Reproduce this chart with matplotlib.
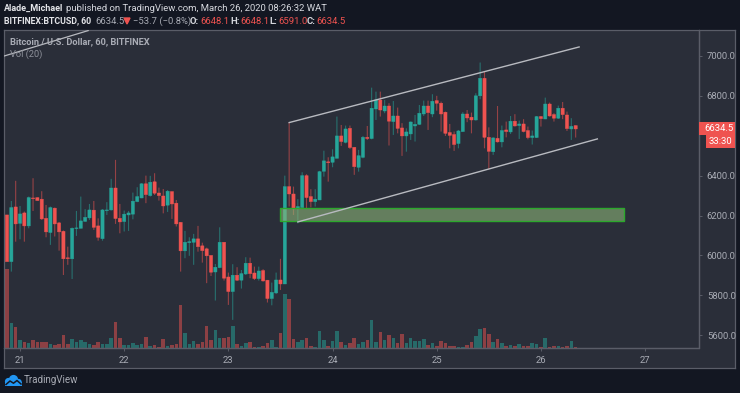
# -*- coding: utf-8 -*-
import matplotlib
matplotlib.use('Agg')
import matplotlib.pyplot as plt
from matplotlib.patches import Rectangle, Polygon, Circle
import numpy as np

plt.rcParams['font.family'] = ['Roboto', 'DejaVu Sans']

# hourly candles, hours counted from the start of the 21st
hours = np.arange(-3, 129)
opens = [6203,5969,6243,6161,6213,6148,6288,6290,6282,6186,6115,6237,6163,6121,5988,5983,6135,6136,6171,6188,
         6227,6148,6084,6225,6228,6338,6186,6170,6203,6207,6270,6288,6359,6300,6369,6313,6298,6252,6320,6262,
         6166,6023,6064,6066,6083,6048,6033,6000,5917,5939,6066,5892,5819,5901,5876,5907,5961,5912,5884,5924,
         5876,5784,5812,5877,5857,6345,6308,6235,6240,6400,6295,6270,6278,6422,6469,6467,6487,6599,6567,6637,
         6542,6442,6492,6592,6586,6734,6779,6724,6749,6671,6699,6639,6599,6609,6649,6657,6709,6749,6709,6776,
         6763,6718,6616,6606,6561,6621,6709,6693,6679,6800,6888,6592,6520,6587,6569,6629,6619,6673,6651,6659,
         6626,6591,6591,6696,6684,6759,6706,6688,6738,6704,6634,6651]
closes = [5969,6240,6158,6208,6148,6290,6285,6275,6183,6118,6240,6158,6118,5983,5984,6136,6138,6173,6191,6228,
          6141,6091,6228,6228,6338,6185,6168,6207,6213,6272,6295,6359,6305,6367,6312,6300,6248,6322,6258,6158,
          6023,6066,6069,6083,6044,6024,5998,5916,5941,6066,5886,5819,5901,5876,5909,5961,5909,5884,5922,5872,
          5784,5815,5877,5857,6345,6308,6233,6245,6400,6290,6270,6282,6420,6474,6465,6494,6599,6571,6634,6541,
          6445,6500,6592,6586,6738,6779,6729,6749,6673,6699,6637,6599,6619,6669,6657,6713,6749,6716,6773,6763,
          6709,6612,6602,6556,6624,6709,6689,6679,6800,6888,6592,6522,6589,6569,6626,6621,6673,6649,6659,6621,
          6591,6599,6696,6686,6759,6699,6688,6738,6706,6636,6647,6634]
highs = [6203,6273,6374,6248,6220,6295,6387,6290,6322,6253,6245,6240,6168,6125,6044,6140,6223,6295,6232,6258,
         6273,6186,6232,6267,6384,6479,6258,6225,6223,6315,6342,6362,6400,6399,6412,6340,6333,6328,6320,6278,
         6166,6123,6091,6108,6148,6064,6039,6000,5957,6141,6066,5914,5956,5941,5927,5991,5989,5944,5944,5931,
         5877,5864,5914,5983,6400,6666,6345,6282,6417,6407,6332,6332,6424,6525,6492,6532,6696,6654,6651,6651,
         6542,6529,6599,6649,6841,6821,6821,6779,6763,6774,6741,6663,6637,6671,6704,6754,6776,6776,6808,6800,
         6771,6721,6659,6621,6629,6718,6729,6716,6813,6967,6922,6642,6592,6749,6651,6671,6699,6708,6676,6683,
         6646,6626,6699,6699,6791,6766,6713,6751,6769,6721,6688,6651]
lows = [5969,5919,6069,6081,6069,6136,6223,6275,6178,6091,6053,6095,6024,5902,5953,5882,6098,6136,6168,6178,
        6128,6074,6074,6203,6225,6158,6111,6120,6123,6181,6267,6287,6262,6295,6303,6275,6211,6218,6183,6145,
        5919,5986,5998,5953,6019,5964,5861,5897,5774,5936,5874,5752,5677,5872,5834,5902,5886,5877,5874,5869,
        5764,5750,5807,5827,5857,6245,6203,6161,6236,6236,6241,6245,6278,6395,6370,6442,6487,6549,6562,6534,
        6404,6420,6487,6579,6582,6679,6696,6713,6551,6604,6612,6499,6520,6579,6571,6654,6699,6629,6693,6726,
        6621,6599,6537,6524,6537,6619,6668,6612,6676,6783,6537,6432,6504,6566,6542,6592,6609,6646,6584,6617,
        6582,6556,6589,6646,6683,6696,6671,6684,6683,6624,6579,6591]
volumes = [236,76,62,23,19,15,25,19,17,19,12,10,12,39,12,26,17,25,19,13,
           10,19,12,12,29,79,29,8,9,15,9,12,33,5,8,4,27,7,10,12,
           128,46,12,21,11,19,65,23,54,31,31,34,65,11,6,14,19,2,4,7,
           14,24,4,44,161,148,26,18,23,31,7,3,51,23,7,20,51,17,9,14,
           31,12,18,24,83,18,49,24,39,31,16,41,16,31,22,20,26,10,14,5,
           20,16,5,5,3,4,10,18,35,58,59,43,17,26,14,7,10,7,12,5,
           5,16,12,4,31,4,7,5,2,5,22,4]

price_ticks = [5600, 5800, 6000, 6200, 6400, 6800, 7000]
price_labels = ['5600.0', '5800.0', '6000.0', '6200.0', '6400.0', '6800.0', '7000.0']
day_ticks = [0, 24, 48, 72, 96, 120, 144]
day_labels = ['21', '22', '23', '24', '25', '26', '27']

# drawn trend lines and the demand zone
channel_top = ([62, 128.8], [6666, 7045])
channel_bottom = ([64, 133], [6168, 6584])
old_line = ([-3.6, 15.7], [7000, 7127])
zone_hours = (59.9, 139.2)
zone_prices = (6173, 6238)

BG = '#2a2e39'
OUTER = '#131722'
FRAME = '#5a5d68'
TEXT = '#a9acb5'
UP = '#26a69a'
DOWN = '#ef5350'
LINE = '#b8bac0'

W, H = 740.0, 393.0
fig = plt.figure(figsize=(7.4, 3.93), dpi=100, facecolor=OUTER)

# panel background with outer frame
back = fig.add_axes([4/W, 1-367.5/H, 731/W, 337.5/H], facecolor=BG)
back.set_xticks([])
back.set_yticks([])
for s in back.spines.values():
    s.set_color(FRAME)
    s.set_linewidth(0.9)

ax_vol = fig.add_axes([4/W, 1-348/H, 694.5/W, 318/H])
ax = ax_vol.twinx()
ax_vol.set_zorder(2)
ax.set_zorder(3)
ax_vol.patch.set_visible(False)
ax.patch.set_visible(False)

x = np.array(hours)
o = np.array(opens, dtype=float)
c = np.array(closes, dtype=float)
colors = [UP if cc >= oo else DOWN for oo, cc in zip(o, c)]

ax_vol.bar(x, volumes, width=0.82, color=colors, alpha=0.5, linewidth=0)
ax_vol.set_ylim(0, 954)
ax_vol.set_xlim(-3.69, 156.3)
ax_vol.set_yticks([])
ax_vol.set_xticks(day_ticks)
ax_vol.set_xticklabels(day_labels)
ax_vol.tick_params(axis='x', colors=TEXT, labelsize=6.8, length=2.5, width=0.7, color=FRAME, pad=3.5)

wicks = ax.vlines(x, lows, highs, colors=colors, linewidth=0.8, alpha=0.55, zorder=2)
wicks.set_snap(False)
bodies = ax.bar(x, np.abs(c-o), bottom=np.minimum(o, c), width=0.74, color=colors,
                edgecolor=colors, linewidth=0.3, zorder=3)
for b in bodies:
    b.set_snap(False)

ax.set_ylim(5536, 7130)
ax.set_yticks(price_ticks)
ax.set_yticklabels(price_labels)
ax.tick_params(axis='y', colors=TEXT, labelsize=6.8, length=2.5, width=0.7, color=FRAME, pad=3.5)

for a in (ax, ax_vol):
    a.spines['top'].set_visible(False)
    a.spines['left'].set_visible(False)
    a.spines['right'].set_color(FRAME)
    a.spines['bottom'].set_color(FRAME)
    a.spines['right'].set_linewidth(0.9)
    a.spines['bottom'].set_linewidth(0.9)

ax.plot(channel_top[0], channel_top[1], color=LINE, lw=1.0, zorder=5)
ax.plot(channel_bottom[0], channel_bottom[1], color=LINE, lw=1.0, zorder=5)
ax.plot(old_line[0], old_line[1], color=LINE, lw=0.9, zorder=5)
ax.add_patch(Rectangle((zone_hours[0], zone_prices[0]), zone_hours[1]-zone_hours[0],
                       zone_prices[1]-zone_prices[0], facecolor=(0.55, 0.71, 0.47, 0.6),
                       edgecolor='#2ca82c', linewidth=1.0, zorder=4))

# overlay in pixel coordinates for header, price tags and logo
top = fig.add_axes([0, 0, 1, 1])
top.set_xlim(0, W)
top.set_ylim(H, 0)
top.axis('off')
top.set_zorder(5)

def label(px, py, s, color='#d6d8de', size=6.8, weight='normal'):
    top.text(px, py, s, color=color, fontsize=size, fontweight=weight, va='center', ha='left')

label(4, 8.5, 'Alade_Michael', weight='bold', color='#e4e5e9', size=6.5)
label(66, 8.5, 'published on TradingView.com, March 26, 2020 08:26:32 WAT')
label(4, 21, 'BITFINEX:BTCUSD, 60', weight='bold', color='#e4e5e9', size=6.3)
label(95, 21, '6634.5', color=TEXT)
top.add_patch(Polygon([[124, 18], [130, 18], [127, 24]], color=DOWN))
label(133, 21, '−53.7 (−0.8%)', color=TEXT)
label(190, 21, 'O:', weight='bold', color='#d6d8de')
label(200, 21, '6648.1', color=DOWN)
label(230, 21, 'H:', weight='bold', color='#d6d8de')
label(240, 21, '6648.1', color=DOWN)
label(269, 21, 'L:', weight='bold', color='#d6d8de')
label(278, 21, '6591.0', color=DOWN)
label(307, 21, 'C:', weight='bold', color='#d6d8de')
label(316, 21, '6634.5', color=DOWN)

label(10, 42, 'Bitcoin / U.S. Dollar, 60, BITFINEX', color=TEXT, size=6.7, weight='bold')
label(10, 54, 'Vol (20)', color='#8e919b', size=6.7)

top.add_patch(Rectangle((698.5, 122), 36.5, 12.7, color=DOWN, lw=0))
top.add_patch(Rectangle((706, 134.7), 29, 13, color=DOWN, lw=0))
top.text(704.5, 128.4, '6634.5', color='white', fontsize=6.8, va='center', ha='left')
top.text(709, 141.3, '33:30', color='white', fontsize=6.8, va='center', ha='left')

# TradingView cloud logo
LOGO = '#2196f3'
for cx, cy, r in [(8.5, 381.5, 3.6), (13.5, 379.5, 4.6), (18.5, 382.2, 3.3)]:
    top.add_patch(Circle((cx, cy), r, color=LOGO, lw=0))
top.add_patch(Rectangle((5, 381.5), 17, 4.2, color=LOGO, lw=0))
top.plot([6, 10, 13.5, 17, 21], [384.5, 381, 383.2, 380.5, 384], color=OUTER, lw=1.1)
label(24, 380, 'TradingView', color=TEXT, size=7)

fig.savefig('out.png', dpi=100, facecolor=OUTER)
